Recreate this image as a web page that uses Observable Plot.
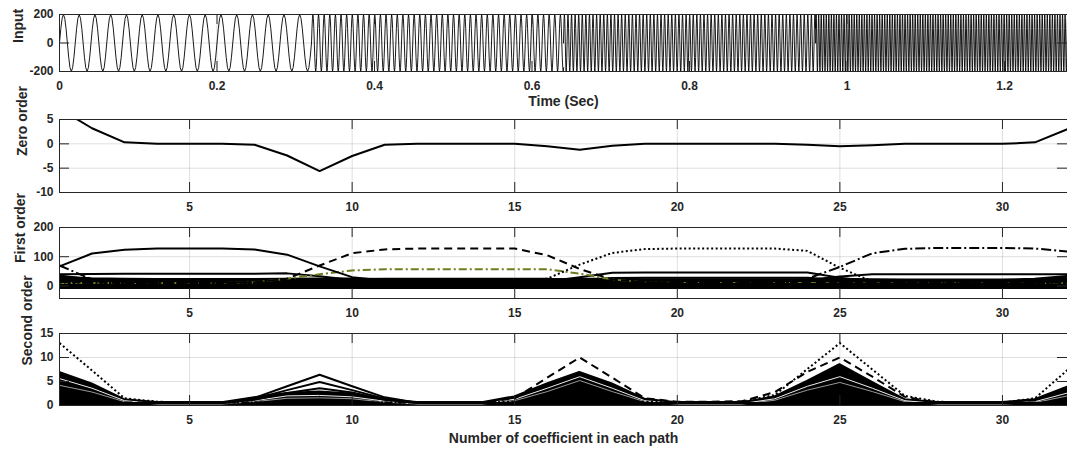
<!DOCTYPE html>
<html><head><meta charset="utf-8">
<script src="https://cdn.jsdelivr.net/npm/d3@7"></script>
<script src="https://cdn.jsdelivr.net/npm/@observablehq/plot@0.6"></script>
<style>
body{margin:0;background:#fff}
#chart{position:relative;width:1067px;height:454px;background:#fff}
#chart svg{position:absolute;left:0;overflow:visible}
</style>
</head><body><div id="chart"></div>
<script>
// ---------- data ----------
const coef = [1,2,3,4,5,6,7,8,9,10,11,12,13,14,15,16,17,18,19,20,21,22,23,24,25,26,27,28,29,30,31,32];

// Input: stepped-frequency sine (segments)
const inputSegStart = [0, 0.32, 0.64, 0.96];
const inputSegEnd   = [0.32, 0.64, 0.96, 1.28];
const inputFreqHz   = [50, 140, 220, 310];
const inputAmp      = 200;

const timeTicks   = [0, 0.2, 0.4, 0.6, 0.8, 1, 1.2];
const inputTicks  = [-200, 0, 200];
const coefTicks   = [5, 10, 15, 20, 25, 30];
const zeroTicks   = [-10, -5, 0, 5];
const firstTicks  = [0, 100, 200];
const secondTicks = [0, 5, 10, 15];

// Zero order
const zeroOrder = [7.2,3.2,0.3,0,0,0,-0.2,-2.4,-5.6,-2.5,-0.2,0,0,0,0,-0.5,-1.2,-0.4,0,0,0,0,0,-0.2,-0.5,-0.3,0,0,0,0,0.3,3.0];

// First order
const firstSolid   = [67,111,124,128,128,128,125,107,67,30,18,15,14,13,13,13,12,10,8,7,7,7,7,7,8,8,8,8,8,8,10,25];
const firstDashed  = [14,12,10,10,10,10,12,25,70,112,125,128,128,128,128,105,58,22,12,10,10,10,10,10,10,10,10,10,10,10,10,12];
const firstDotted  = [12,10,10,10,10,10,10,10,10,12,12,12,12,12,14,25,73,113,126,128,128,128,128,120,62,15,10,10,10,10,10,12];
const firstDashDot = [70,22,14,12,12,12,12,12,12,12,12,12,12,12,12,12,12,12,12,12,12,12,14,25,65,112,127,130,130,130,128,118];
const firstGreen   = [10,10,10,10,10,10,12,25,40,53,57,57,57,57,57,57,42,22,12,10,10,10,10,10,10,10,10,10,10,10,10,10];
const firstA       = [40,41,42,42,42,42,42,43,33,20,15,14,13,13,13,13,13,12,12,12,12,12,12,12,12,12,12,12,12,12,12,20];
const firstB       = [14,14,14,14,14,14,14,14,14,14,14,14,14,14,14,15,30,45,46,46,46,46,46,46,28,15,12,12,12,12,12,14];
const firstC       = [12,12,12,12,12,12,12,12,12,12,12,12,12,12,12,12,18,27,28,28,28,28,28,28,20,12,10,10,10,10,10,14];
const firstD       = [36,22,15,12,12,12,12,12,12,12,12,12,12,12,12,12,12,12,12,12,12,12,14,20,32,40,40,40,40,40,40,40];
const firstE       = [12,12,12,12,12,12,12,14,20,24,25,25,25,25,25,25,18,12,10,10,10,10,10,10,10,10,10,10,10,10,10,12];
const firstBandLow  = [-9,-9,-9,-9,-9,-9,-9,-9,-9,-9,-9,-9,-9,-9,-9,-9,-9,-9,-9,-9,-9,-9,-9,-9,-9,-9,-9,-9,-9,-9,-9,-9];
const firstBandHigh = [30,25,23,22,22,22,22,23,24,24,21,21,21,21,21,21,23,23,21,21,21,21,21,21,23,21,20,20,20,20,23,32];

// Second order
const secondBandLow  = [0,0,0,0,0,0,0,0,0,0,0,0,0,0,0,0,0,0,0,0,0,0,0,0,0,0,0,0,0,0,0,0];
const secondBandHigh = [6.9,4.5,1.2,0.6,0.6,0.6,1.6,2.5,2.8,2.4,1.2,0.6,0.6,0.6,1.8,4.5,6.9,4.5,1.3,0.6,0.6,0.6,1.8,5.0,8.5,4.8,1.2,0.6,0.6,0.6,1.2,3.8];
const secondPeakA = [0.5,0.5,0.5,0.5,0.5,0.5,1.6,4.0,6.4,4.0,1.7,0.6,0.5,0.5,0.5,0.5,0.5,0.5,0.5,0.5,0.5,0.5,0.5,0.5,0.5,0.5,0.5,0.5,0.5,0.5,0.5,0.5];
const secondPeakB = [0.5,0.5,0.5,0.5,0.5,0.5,1.4,3.2,4.9,3.2,1.4,0.6,0.5,0.5,0.5,0.5,0.5,0.5,0.5,0.5,0.5,0.5,0.5,0.5,0.5,0.5,0.5,0.5,0.5,0.5,0.5,0.5];
const secondPeakC = [0.5,0.5,0.5,0.5,0.5,0.5,1.2,2.6,3.6,2.7,1.2,0.5,0.5,0.5,0.5,0.5,0.5,0.5,0.5,0.5,0.5,0.5,0.5,0.5,0.5,0.5,0.5,0.5,0.5,0.5,0.5,0.5];
const secondDotted = [13,7.3,1.5,0.8,0.6,0.6,0.6,0.6,0.8,0.8,0.6,0.6,0.6,0.6,0.8,0.8,0.8,0.8,0.8,0.6,0.6,0.8,2.2,7.6,13,7.5,2.0,0.8,0.6,0.6,1.5,7.4];
const secondDashed = [0.6,0.6,0.6,0.6,0.6,0.6,0.6,0.6,0.6,0.6,0.6,0.6,0.6,0.6,1.5,5.8,10,5.8,1.5,0.8,0.8,0.9,2.8,7.0,10,6.0,1.8,0.6,0.6,0.6,0.6,0.6];
const secondWhite  = [5.6,3.6,1.0,0.4,0.4,0.4,1.0,2.0,2.1,1.8,0.9,0.4,0.4,0.4,1.3,3.6,6.0,3.6,1.0,0.4,0.4,0.4,1.4,4.0,6.0,3.6,1.0,0.4,0.4,0.4,0.8,2.6];
const secondGray   = [4.2,2.8,0.8,0.3,0.3,0.3,0.8,1.5,1.6,1.4,0.7,0.3,0.3,0.3,1.0,2.9,5.2,2.9,0.8,0.3,0.3,0.3,1.1,3.2,4.8,2.9,0.8,0.3,0.3,0.3,0.6,2.0];

// ---------- build tables ----------
const inputData = [];
inputSegStart.forEach((t0, i) => {
  const f = inputFreqHz[i], t1 = inputSegEnd[i];
  const n = Math.round((t1 - t0) * f * 12);
  for (let k = 0; k <= n; k++) {
    const t = t0 + k / (f * 12);
    inputData.push({t, v: inputAmp * Math.sin(2 * Math.PI * f * (t - t0)), seg: i});
  }
});
const series = (arr) => coef.map((c, i) => ({x: c, y: arr[i]}));
const band = (lo, hi) => coef.map((c, i) => ({x: c, lo: lo[i], hi: hi[i]}));

// ---------- panel builder ----------
const FONT = "'Liberation Sans', Arial, Helvetica, sans-serif";
const INK = "#262626";
const W = 1067, ML = 59, MR = 0;
function panel(cfg) {
  const plotW = W - ML - MR;
  const plotH = cfg.height - cfg.marginTop - cfg.marginBottom;
  const T = 10;
  const marks = [
    Plot.gridX(cfg.xTicks, {stroke: INK, strokeOpacity: 0.15}),
    Plot.gridY(cfg.yTicks, {stroke: INK, strokeOpacity: 0.15}),
    ...cfg.marks,
    Plot.tickX(cfg.xTicks, {x: d => d, insetTop: plotH - T, stroke: INK}),
    Plot.tickX(cfg.xTicks, {x: d => d, insetBottom: plotH - T, stroke: INK}),
    Plot.tickY(cfg.yTicks, {y: d => d, insetRight: plotW - T, stroke: INK}),
    Plot.tickY(cfg.yTicks, {y: d => d, insetLeft: plotW - T, stroke: INK}),
    Plot.frame({stroke: INK}),
    Plot.axisX(cfg.xTicks, {tickSize: 0, tickPadding: 10, tickFormat: d => String(d), label: null}),
    Plot.axisY(cfg.yTicks, {tickSize: 0, tickPadding: 6, tickFormat: d => String(d), label: null}),
    Plot.text([cfg.ylabel], {text: d => d, frameAnchor: "left", dx: cfg.ylabelDx, dy: cfg.ylabelDy || 0, rotate: -90, fontSize: 14, fontWeight: "bold", fill: INK})
  ];
  if (cfg.xlabel) marks.push(Plot.text([cfg.xlabel], {text: d => d, frameAnchor: "bottom", dy: cfg.xlabelDy, fontSize: 14, fontWeight: "bold", fill: INK}));
  const svg = Plot.plot({
    width: W, height: cfg.height,
    marginLeft: ML, marginRight: MR, marginTop: cfg.marginTop, marginBottom: cfg.marginBottom,
    style: {fontFamily: FONT, fontSize: "12px", fontWeight: "bold", color: INK, background: "transparent", overflow: "visible"},
    x: {domain: cfg.xDomain},
    y: {domain: cfg.yDomain},
    marks
  });
  svg.style.top = cfg.top + "px";
  document.getElementById("chart").appendChild(svg);
}

const lineOpts = (extra) => Object.assign({x: "x", y: "y", stroke: "#000", strokeWidth: 2, strokeLinecap: "butt", clip: true}, extra);

// Panel 1: Input
panel({
  top: 0, height: 112, marginTop: 14, marginBottom: 41,
  xDomain: [0, 1.28], xTicks: timeTicks, yDomain: [-200, 200], yTicks: inputTicks,
  ylabel: "Input", ylabelDx: -41, xlabel: "Time (Sec)", xlabelDy: 34,
  marks: [Plot.line(inputData, {x: "t", y: "v", z: "seg", stroke: "#000", strokeWidth: 0.9, clip: true})]
});

// Panel 2: Zero order
panel({
  top: 112, height: 106, marginTop: 7, marginBottom: 26,
  xDomain: [1, 32], xTicks: coefTicks, yDomain: [-10, 5], yTicks: zeroTicks,
  ylabel: "Zero order", ylabelDx: -37,
  marks: [Plot.line(series(zeroOrder), lineOpts({}))]
});

// Panel 3: First order
panel({
  top: 218, height: 107, marginTop: 9, marginBottom: 27,
  xDomain: [1, 32], xTicks: coefTicks, yDomain: [-43, 200], yTicks: firstTicks,
  ylabel: "First order", ylabelDx: -39,
  marks: [
    Plot.areaY(band(firstBandLow, firstBandHigh), {x: "x", y1: "lo", y2: "hi", fill: "#000", stroke: "#000", strokeWidth: 2, clip: true}),
    Plot.line(series(firstE), lineOpts({})),
    Plot.line(series(firstC), lineOpts({})),
    Plot.line(series(firstB), lineOpts({})),
    Plot.line(series(firstD), lineOpts({})),
    Plot.line(series(firstA), lineOpts({})),
    Plot.line(series(firstGreen), lineOpts({stroke: "#6b7d1e", strokeDasharray: "8,3,2,3"})),
    Plot.line(series(firstSolid), lineOpts({})),
    Plot.line(series(firstDashed), lineOpts({strokeDasharray: "8,5"})),
    Plot.line(series(firstDotted), lineOpts({strokeDasharray: "2,2.5"})),
    Plot.line(series(firstDashDot), lineOpts({strokeDasharray: "10,3,2,3"}))
  ]
});

// Panel 4: Second order
panel({
  top: 325, height: 129, marginTop: 8, marginBottom: 49,
  xDomain: [1, 32], xTicks: coefTicks, yDomain: [0, 15], yTicks: secondTicks,
  ylabel: "Second order", ylabelDx: -32, ylabelDy: -4,
  xlabel: "Number of coefficient in each path", xlabelDy: 37,
  marks: [
    Plot.areaY(band(secondBandLow, secondBandHigh), {x: "x", y1: "lo", y2: "hi", fill: "#000", stroke: "#000", strokeWidth: 2, clip: true}),
    Plot.line(series(secondGray), lineOpts({stroke: "#999", strokeWidth: 1})),
    Plot.line(series(secondWhite), lineOpts({stroke: "#eee", strokeWidth: 1})),
    Plot.line(series(secondPeakC), lineOpts({})),
    Plot.line(series(secondPeakB), lineOpts({})),
    Plot.line(series(secondPeakA), lineOpts({})),
    Plot.line(series(secondDashed), lineOpts({strokeDasharray: "8,5"})),
    Plot.line(series(secondDotted), lineOpts({strokeDasharray: "2,2.5"}))
  ]
});
</script></body></html>
